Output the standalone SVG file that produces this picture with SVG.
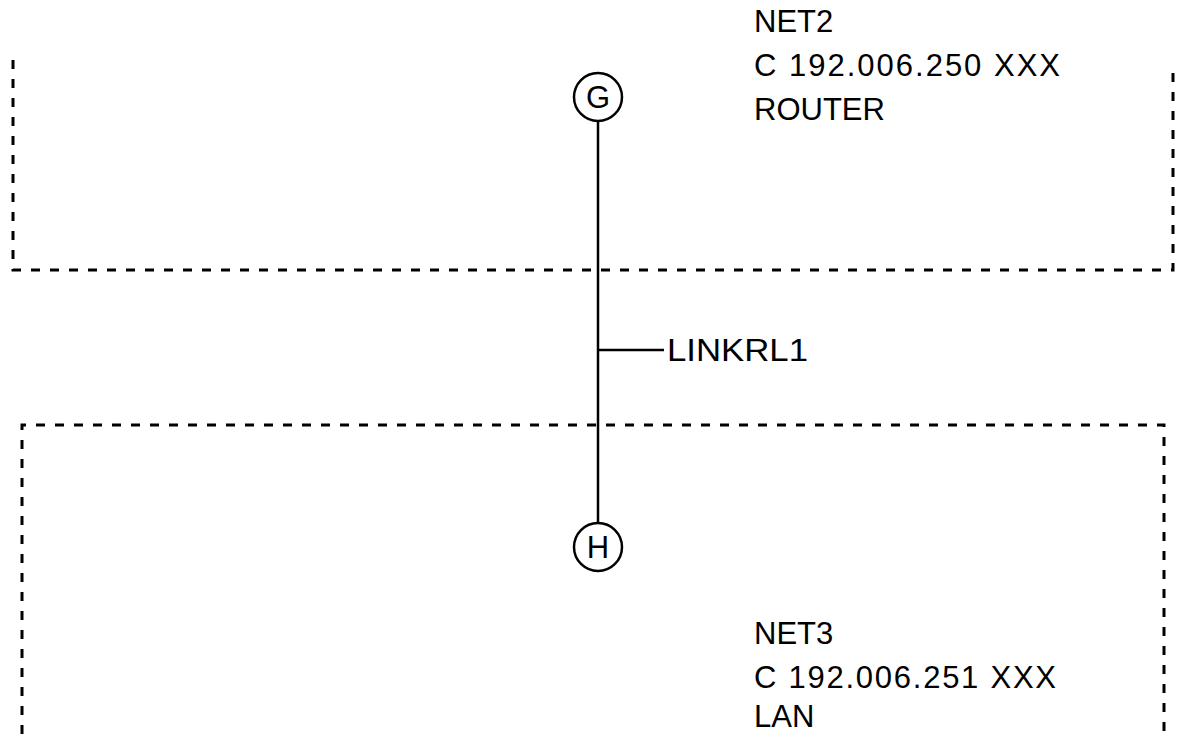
<svg xmlns="http://www.w3.org/2000/svg" width="1183" height="734" viewBox="0 0 1183 734">
<style>
.dash{fill:none;stroke:#000;stroke-width:3;stroke-dasharray:9 10}
.ln{fill:none;stroke:#000;stroke-width:2.5}
.node{fill:#fff;stroke:#000;stroke-width:2.5}
text{font-family:"Liberation Sans",Arial,sans-serif;fill:#000}
.lbl{font-size:31px}
.nl{font-size:31px;text-anchor:middle}
</style>
<rect width="1183" height="734" fill="#fff"/>
<g id="net2">
<path class="dash" d="M13 60 V270 H1173 V64"/>
<text class="lbl" x="754" y="32">NET2</text>
<text class="lbl" x="754" y="76" textLength="306">C 192.006.250 XXX</text>
<text class="lbl" x="754" y="120">ROUTER</text>
</g>
<g id="net3">
<path class="dash" d="M22 734 V425 H1164 V734"/>
<text class="lbl" x="754" y="644">NET3</text>
<text class="lbl" x="754" y="688" textLength="302">C 192.006.251 XXX</text>
<text class="lbl" x="754" y="727">LAN</text>
</g>
<g id="connectors">
<line class="ln" x1="598" y1="121" x2="598" y2="523"/>
<line class="ln" x1="598" y1="350" x2="664" y2="350"/>
<text class="lbl" x="667" y="361" textLength="141" lengthAdjust="spacingAndGlyphs">LINKRL1</text>
</g>
<g id="G">
<circle class="node" cx="598" cy="97" r="24"/>
<text class="nl" x="598" y="108">G</text>
</g>
<g id="H">
<circle class="node" cx="598" cy="547" r="24"/>
<text class="nl" x="598" y="558">H</text>
</g>
</svg>
